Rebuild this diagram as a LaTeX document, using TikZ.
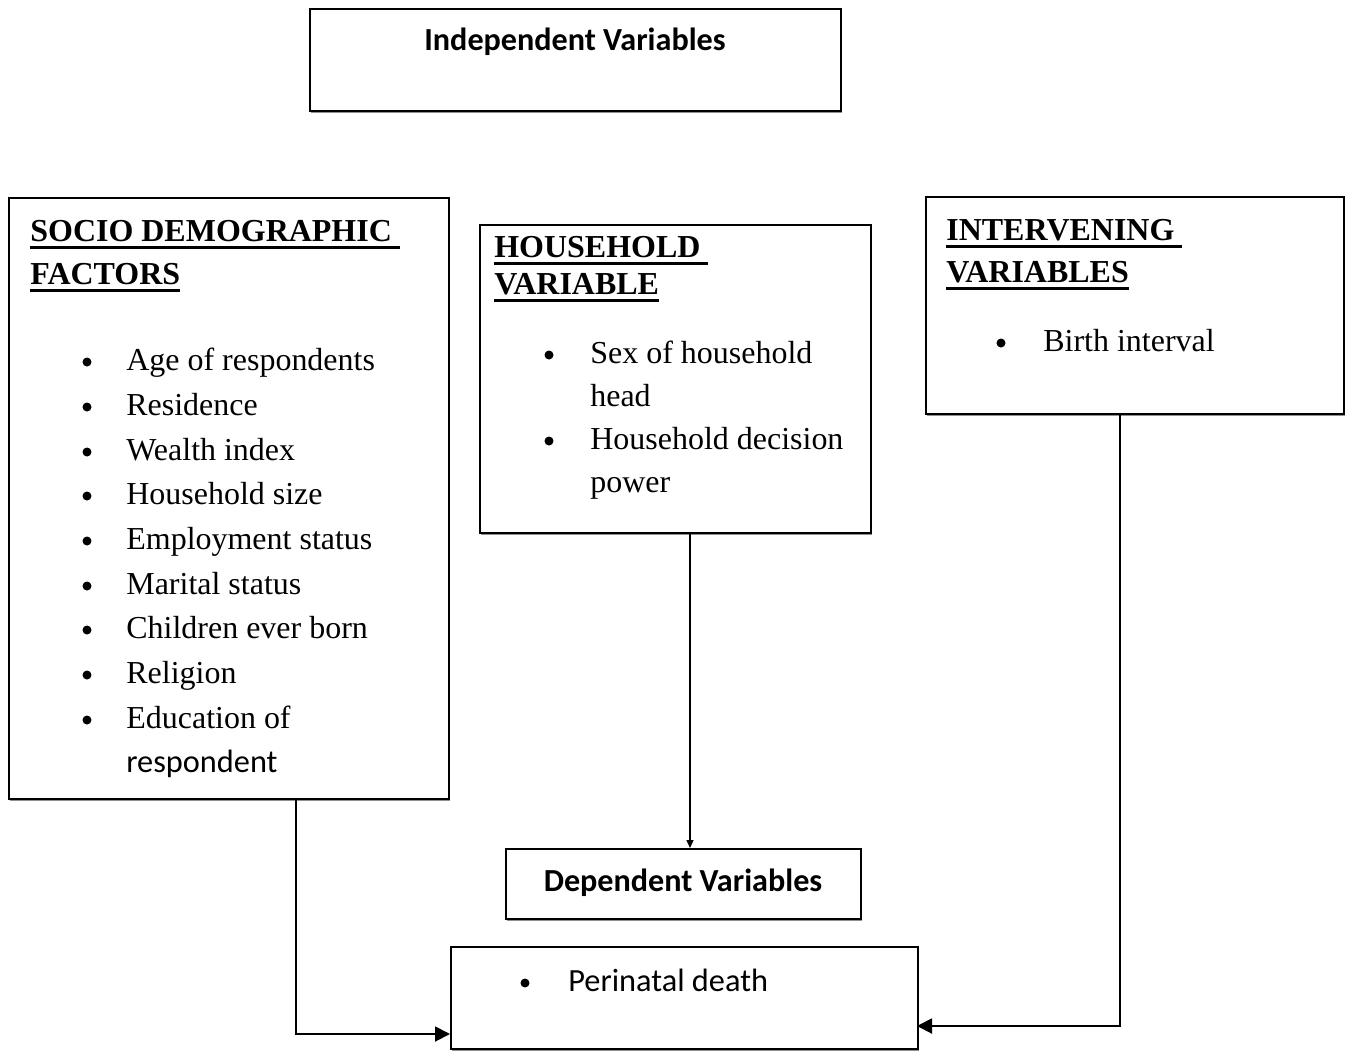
\documentclass[tikz,border=0pt]{standalone}
\usepackage{fontspec}
\setmainfont{Liberation Serif}
\newfontfamily\calibri{Carlito}
\usetikzlibrary{arrows.meta, positioning, calc, shadows}
\newcommand{\ulhead}[1]{\setbox0\hbox{#1}\leavevmode\rlap{\rule[-4.4pt]{\wd0}{1.4pt}}\box0}
\tikzset{
box/.style={
draw=black,
fill=white,
line width=1.1pt,
anchor=north west,
inner sep=0pt,
drop shadow={shadow xshift=0.5pt, shadow yshift=-1.3pt, fill=black!55, opacity=0.8}
},
headtext/.style={
anchor=base west,
inner sep=0pt,
font=\fontsize{18.2}{21}\selectfont\bfseries
},
itemtext/.style={
anchor=base west,
inner sep=0pt,
font=\fontsize{18.2}{21}\selectfont
},
dot/.style={
circle,
fill=black,
inner sep=0pt,
minimum size=0.18cm
},
sanstitle/.style={
anchor=base,
inner sep=0pt,
font=\fontsize{18.3}{22}\selectfont\calibri\bfseries
},
sansitem/.style={
anchor=base west,
inner sep=0pt,
font=\fontsize{18.4}{22}\selectfont\calibri
},
bigarrow/.style={
-{Triangle[length=0.3cm,width=0.3cm]},
line width=1.1pt
},
smallarrow/.style={
-{Triangle[length=0.16cm,width=0.14cm]},
line width=0.8pt
}
}

\begin{document}
\begin{tikzpicture}[x=0.02cm, y=0.02cm]
\useasboundingbox (0,0) rectangle (1353,-1052);

% boxes
\node[box, minimum width=10.62cm, minimum height=2.04cm] (indep) at (309,-8) {};
\node[box, minimum width=8.8cm, minimum height=12.02cm] (socio) at (8,-197) {};
\node[box, minimum width=7.82cm, minimum height=6.16cm] (hh) at (479,-224) {};
\node[box, minimum width=8.36cm, minimum height=4.34cm] (interv) at (925,-196) {};
\node[box, minimum width=7.1cm, minimum height=1.4cm] (dep) at (505,-848) {};
\node[box, minimum width=9.34cm, minimum height=2.04cm] (peri) at (450,-946) {};

% titles
\node[sanstitle] (indeptxt) at (575,-50) {Independent Variables};
\node[sanstitle] (deptxt) at (683,-891) {Dependent Variables};

% socio demographic factors
\node[headtext] (sochead1) at (30,-241) {\ulhead{SOCIO DEMOGRAPHIC\ }};
\node[headtext] (sochead2) at (30,-284) {\ulhead{FACTORS}};
\foreach \txt/\yy [count=\i] in {Age of respondents/370, Residence/415, Wealth index/460,
  Household size/504, Employment status/549, Marital status/594,
  Children ever born/638, Religion/683, Education of/728} {
  \node[dot] (socdot\i) at (87,-\yy+8) {};
  \node[itemtext] (socitem\i) at (126,-\yy) {\txt};
}
\node[sansitem] (socitem10) at (126,-772) {respondent};

% household variable
\node[headtext] (hhhead1) at (494,-257) {\ulhead{HOUSEHOLD\ }};
\node[headtext] (hhhead2) at (494,-294) {\ulhead{VARIABLE}};
\node[dot] (hhdot1) at (549,-355) {};
\node[itemtext] (hhitem1) at (590,-363) {Sex of household};
\node[itemtext] (hhitem2) at (590,-406) {head};
\node[dot] (hhdot2) at (549,-441) {};
\node[itemtext] (hhitem3) at (590,-449) {Household decision};
\node[itemtext] (hhitem4) at (590,-492) {power};

% intervening variables
\node[headtext] (inthead1) at (946,-240) {\ulhead{INTERVENING\ }};
\node[headtext] (inthead2) at (946,-282) {\ulhead{VARIABLES}};
\node[dot] (intdot) at (1001,-343) {};
\node[itemtext] (intitem) at (1043,-351) {Birth interval};

% dependent variable
\node[dot] (peridot) at (525,-983) {};
\node[sansitem] (periitem) at (568,-991) {Perinatal death};

% connectors
\coordinate (hhout) at (690,-532);
\coordinate (socout) at (296,-798);
\coordinate (intout) at (1120,-413);
\coordinate (periL) at (450,-1034);
\coordinate (periR) at (917,-1026);
\draw[smallarrow] (hhout) -- (hhout |- dep.north);
\draw[bigarrow] (socout) |- (periL);
\draw[bigarrow] (intout) |- (periR);

\end{tikzpicture}
\end{document}
